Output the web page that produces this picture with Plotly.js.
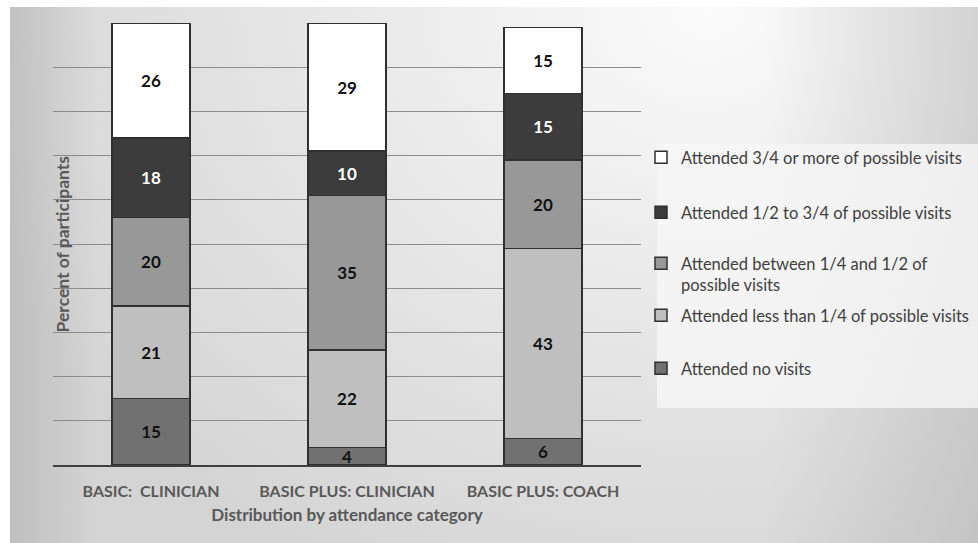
<!DOCTYPE html>
<html>
<head>
<meta charset="utf-8">
<script src="https://cdn.plot.ly/plotly-3.0.1.min.js"></script>
<style>
  html, body { margin: 0; padding: 0; background: #ffffff; }
  #wrap { position: relative; width: 978px; height: 543px; overflow: hidden; background: #ffffff; }
  #bg {
    position: absolute; left: 10px; top: 7px; right: 0; bottom: 0;
    background:
      linear-gradient(to right, rgba(150,150,150,0.35) 0%, rgba(150,150,150,0) 9%, rgba(150,150,150,0) 78%, rgba(150,150,150,0.3) 100%),
      radial-gradient(ellipse 80% 120% at 72% 0%, #fbfbfb 0%, #e9e9e9 45%, #d4d4d4 100%);
  }
  #chart { position: absolute; left: 0; top: 0; width: 978px; height: 543px; }
</style>
</head>
<body>
<div id="wrap"><div id="bg"></div><div id="chart"></div></div>
<script>
// Attendance groups along the x axis
const groups = ['BASIC:\u00a0 CLINICIAN', 'BASIC PLUS: CLINICIAN', 'BASIC PLUS: COACH'];

// Percent of participants per attendance category (bottom of stack first)
const noVisits         = [15, 4, 6];
const lessThanQuarter  = [21, 22, 43];
const quarterToHalf    = [20, 35, 20];
const halfToThreeQtr   = [18, 10, 15];
const threeQtrOrMore   = [26, 29, 15];

const seriesNames = [
  'Attended no visits',
  'Attended less than 1/4 of possible visits',
  'Attended between 1/4 and 1/2 of<br>possible visits',
  'Attended 1/2 to 3/4 of possible visits',
  'Attended 3/4 or more of possible visits'
];
const seriesValues = [noVisits, lessThanQuarter, quarterToHalf, halfToThreeQtr, threeQtrOrMore];
const fillColors = ['#717171', '#bfbfbf', '#989898', '#3c3c3c', '#ffffff'];
const labelColors = ['#111111', '#111111', '#111111', '#ffffff', '#111111'];

const FONT = 'Lato, "Open Sans", sans-serif';

// Each series gets its own legend box so the entries can be spaced evenly
const legendIds = ['legend5', 'legend4', 'legend3', 'legend2', 'legend'];
const legendRowY = [369, 316, 264, 213, 158];   // pixel rows of the legend entries

const traces = seriesValues.map((vals, i) => ({
  type: 'bar',
  name: seriesNames[i],
  legend: legendIds[i],
  x: groups,
  y: vals,
  width: 0.4,
  text: vals.map(String),
  textposition: 'inside',
  insidetextanchor: 'middle',
  textangle: 0,
  constraintext: 'none',
  textfont: { family: FONT, size: 17, color: labelColors[i], weight: 'bold' },
  marker: { color: fillColors[i], line: { color: '#303030', width: 1.5 } },
  hoverinfo: 'x+y+name'
}));

const plotTop = 23, plotBottom = 465;
const toPaperY = px => (plotBottom - px) / (plotBottom - plotTop);

const layout = {
  width: 978,
  height: 543,
  margin: { l: 53, r: 337, t: plotTop, b: 543 - plotBottom, autoexpand: false },
  paper_bgcolor: 'rgba(0,0,0,0)',
  plot_bgcolor: 'rgba(0,0,0,0)',
  barmode: 'stack',
  font: { family: FONT, color: '#595959' },
  xaxis: {
    type: 'category',
    showgrid: false,
    showline: true,
    linecolor: '#404040',
    linewidth: 2,
    ticks: '',
    ticklabelstandoff: 11,
    tickfont: { family: FONT, size: 16, color: '#595959', weight: 'bold' },
    title: { text: 'Distribution by attendance category', standoff: 10,
             font: { family: FONT, size: 17, color: '#595959', weight: 'bold' } },
    automargin: false,
    fixedrange: true
  },
  yaxis: {
    range: [0, 100],
    dtick: 10,
    showticklabels: false,
    showgrid: true,
    gridcolor: '#8c8c8c',
    gridwidth: 1,
    zeroline: false,
    automargin: false,
    fixedrange: true
  },
  showlegend: true,
  shapes: [{
    type: 'rect', xref: 'paper', yref: 'paper', layer: 'below',
    x0: 1.0272, x1: 1.5731, y0: 0.129, y1: 0.726,
    fillcolor: 'rgba(246,246,246,0.8)', line: { width: 0 }
  }],
  annotations: [{
    text: 'Percent of participants',
    xref: 'paper', yref: 'paper', x: 0.016, y: 0.50,
    xanchor: 'center', yanchor: 'middle',
    textangle: -90, showarrow: false,
    font: { family: FONT, size: 17.5, color: '#595959', weight: 'bold' }
  }]
};

legendIds.forEach((id, i) => {
  layout[id] = {
    x: 1.0,
    xanchor: 'left',
    y: toPaperY(legendRowY[i] - 18),
    yanchor: 'top',
    valign: 'top',
    bgcolor: 'rgba(0,0,0,0)',
    font: { family: FONT, size: 16.5, color: '#404040' }
  };
});

Plotly.newPlot('chart', traces, layout, { displayModeBar: false });
</script>
</body>
</html>
